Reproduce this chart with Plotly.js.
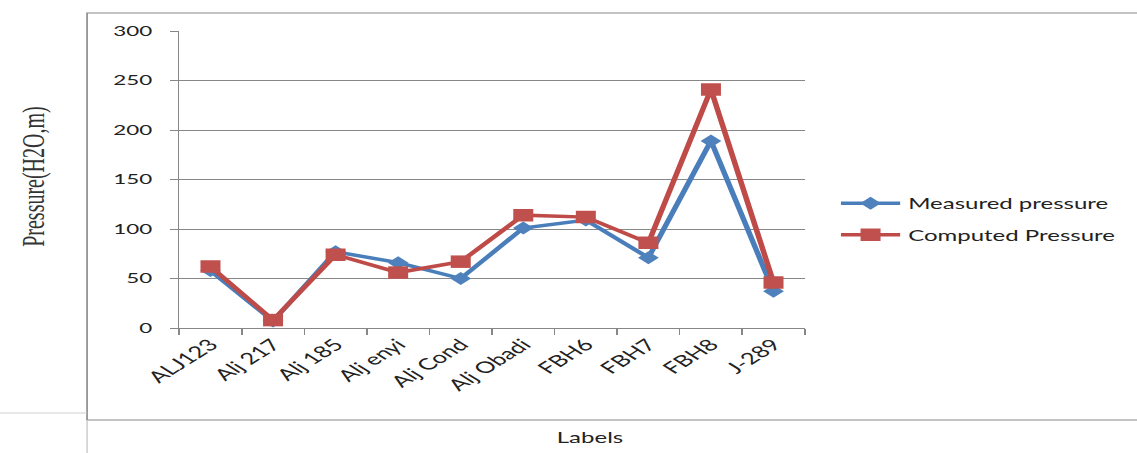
<!DOCTYPE html>
<html>
<head>
<meta charset="utf-8">
<script src="https://cdn.plot.ly/plotly-3.0.1.min.js"></script>
<style>
  html, body { margin: 0; padding: 0; background: #fff; }
  #frame { width: 1137px; height: 453px; overflow: hidden; }
  /* the chart is laid out narrow and widened horizontally */
  #chart { width: 711px; height: 453px; transform: scaleX(1.6); transform-origin: 0 0; }
</style>
</head>
<body>
<div id="frame"><div id="chart"></div></div>
<script>
// Station labels along the x axis
const stations = ["ALJ123", "Alj 217", "Alj 185", "Alj enyi", "Alj Cond",
                  "Alj Obadi", "FBH6", "FBH7", "FBH8", "J-289"];

// Pressure head, H2O m
const measuredPressure = [58, 7, 77, 66, 50, 101, 109, 71, 189, 37];
const computedPressure = [62, 8, 74, 56, 67, 114, 112, 86, 241, 46];

const yTicks = [0, 50, 100, 150, 200, 250, 300];

const blue = "#4A7EBB";
const red = "#BE4B48";
const frameGray = "#878787";
const font = "Lato, 'Open Sans', sans-serif";

const traces = [
  {
    x: stations, y: measuredPressure, name: "Measured pressure",
    type: "scatter", mode: "lines+markers", legendgroup: "m",
    line: { color: blue, width: 3.5 },
    marker: { symbol: "diamond", size: 10, color: "#4F81BD" }
  },
  {
    x: stations, y: computedPressure, name: "Computed Pressure",
    type: "scatter", mode: "lines+markers", legendgroup: "c",
    line: { color: red, width: 3.5 },
    marker: { symbol: "square", size: 12.5, color: "#C0504D" }
  }
];

const layout = {
  width: 711, height: 453,
  margin: { l: 112, r: 208, t: 31, b: 125, pad: 0, autoexpand: false },
  paper_bgcolor: "#fff", plot_bgcolor: "#fff",
  showlegend: true,
  legend: {
    x: 1.045, xanchor: "left", y: 0.475, yanchor: "top",
    traceorder: "grouped", tracegroupgap: 9, itemwidth: 37,
    font: { family: font, size: 15, color: "#222" },
    bgcolor: "rgba(0,0,0,0)"
  },
  xaxis: {
    type: "category", range: [-0.5, 9.5], tickson: "boundaries",
    ticks: "outside", ticklen: 6, tickcolor: frameGray,
    showline: true, linecolor: frameGray, linewidth: 1,
    showgrid: false, zeroline: false, tickangle: -45, automargin: false,
    tickfont: { family: font, size: 16, color: "#222" }
  },
  yaxis: {
    range: [0, 300], tickvals: yTicks, ticktext: yTicks.map(String),
    ticks: "outside", ticklen: 5, tickcolor: frameGray,
    showline: true, linecolor: frameGray, linewidth: 1,
    showgrid: true, gridcolor: frameGray, gridwidth: 1, zeroline: false,
    ticklabelstandoff: 8, automargin: false,
    tickfont: { family: font, size: 14, color: "#222" }
  },
  annotations: [
    {
      text: "Labels", xref: "paper", yref: "paper", x: 0.657, y: -0.367,
      xanchor: "center", yanchor: "middle", showarrow: false,
      font: { family: font, size: 15, color: "#222" }
    },
    {
      text: "Pressure(H2O,m)", xref: "paper", yref: "paper", x: -0.232, y: 0.51,
      xanchor: "center", yanchor: "middle", showarrow: false, textangle: -90,
      font: { family: "'Liberation Serif', 'Times New Roman', serif", size: 20, color: "#333" }
    }
  ],
  shapes: [
    // chart frame
    { type: "rect", xref: "paper", yref: "paper", x0: -0.1473, x1: 1.7, y0: -0.3098, y1: 1.0606,
      line: { color: frameGray, width: 1 } },
    // sheet cell borders around the frame
    { type: "line", xref: "paper", yref: "paper", x0: -0.3, x1: -0.1473, y0: -0.2862, y1: -0.2862,
      line: { color: "#cfcfcf", width: 1 } },
    { type: "line", xref: "paper", yref: "paper", x0: -0.1473, x1: -0.1473, y0: -0.3098, y1: -0.45,
      line: { color: "#cfcfcf", width: 1 } }
  ]
};

Plotly.newPlot("chart", traces, layout, { staticPlot: true, displayModeBar: false });
</script>
</body>
</html>
